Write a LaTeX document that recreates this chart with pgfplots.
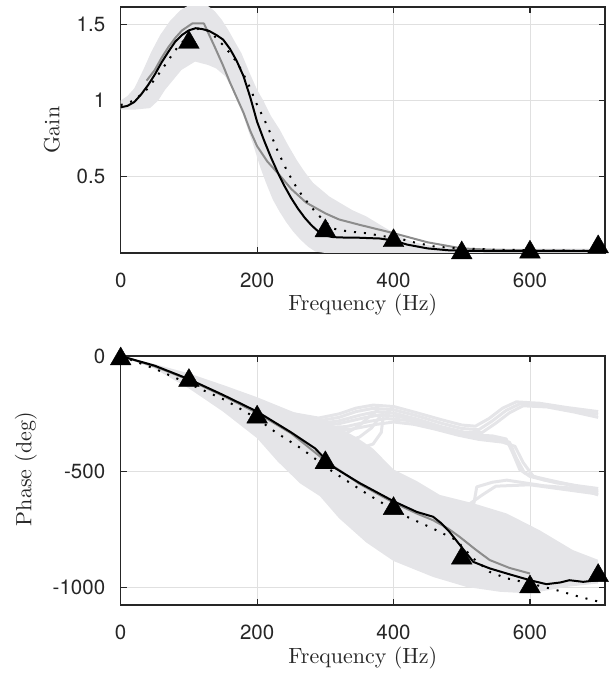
\documentclass[border=0pt]{standalone}
\usepackage{fontspec}
\newfontfamily\tickfont{TeX Gyre Heros}
\newfontfamily\labfont{lmroman10-regular.otf}
\usepackage{pgfplots}
\pgfplotsset{compat=1.18}
\definecolor{axcol}{rgb}{0.15,0.15,0.15}
\definecolor{band}{rgb}{0.9,0.9,0.91}
\definecolor{midgray}{rgb}{0.55,0.55,0.55}
\definecolor{gridc}{rgb}{0.88,0.88,0.88}
\newcommand\labsize{\labfont\fontsize{22}{26}\selectfont}
\pgfplotsset{
  myax/.style={
    scale only axis, width=484.3pt,
    xmin=0, xmax=710,
    xtick={0,200,400,600}, xticklabels={0,200,400,600},
    axis line style={axcol, line width=1.2pt},
    tick style={axcol, line width=1.2pt},
    tick align=inside, major tick length=6pt,
    grid=major, grid style={gridc, line width=0.8pt},
    /pgf/number format/assume math mode=true,
    ticklabel style={font=\tickfont\fontsize{20.5}{24}\selectfont, text=axcol},
    xticklabel style={yshift=-16pt},
    yticklabel style={xshift=-12pt},
    xlabel={\labsize Frequency (Hz)},
    every axis x label/.style={at={(axis description cs:0.5,-0.211)}, anchor=center, text=axcol},
    anchor=south west,
    every axis plot/.append style={line join=round},
    lg/.style={band, line width=3pt},
    blk/.style={black, line width=2pt},
    gry/.style={midgray, line width=2pt},
    dtt/.style={black, line width=2pt, dash pattern=on 2pt off 8pt},
    tri/.style={only marks, mark=triangle*, mark size=12pt, mark options={fill=black, draw=black, line width=0.4pt, yshift=-3pt}},
  },
}
\begin{document}
\begin{tikzpicture}
\useasboundingbox (0,0) rectangle (613pt,673pt);
% ---------------- Gain ----------------
\begin{axis}[myax, at={(120.7pt,420pt)}, height=246pt,
  ymin=0, ymax=1.613, ytick={0.5,1,1.5}, yticklabels={0.5,1,1.5},
  ylabel={\labsize Gain},
  every axis y label/.style={at={(axis description cs:-0.142,0.5)}, rotate=90, anchor=center, text=axcol}]
\addplot[fill=band, draw=none] coordinates {
(0,1.0) (10,1.03) (20,1.08) (33,1.2) (45,1.32) (58,1.43) (72,1.52) (87,1.59) (100,1.625) (115,1.635) (125,1.63)
(138,1.585) (148,1.53) (158,1.46) (168,1.38) (177,1.31) (190,1.17) (200,1.07) (209,1.0) (220,0.9) (233,0.81)
(245,0.71) (258,0.61) (270,0.53) (282,0.46) (306,0.37) (321,0.33) (340,0.28) (360,0.24) (384,0.175) (409,0.11)
(430,0.07) (458,0.045) (497,0.03) (550,0.028) (700,0.028)
(700,0) (300,0) (285,0.01) (275,0.04) (263,0.09) (253,0.14) (243,0.2) (233,0.27) (223,0.35) (213,0.46) (204,0.57)
(195,0.70) (185,0.83) (175,0.97) (165,1.07) (153,1.16) (140,1.21) (128,1.233) (109,1.255) (89,1.2) (65,1.07)
(55,1.0) (43,0.95) (20,0.94) (0,0.94)} -- cycle;
\addplot[gry] coordinates {
(38,1.13) (50,1.2) (60,1.28) (70,1.35) (80,1.41) (90,1.46) (105,1.505) (122,1.505) (138,1.35) (150,1.23) (160,1.12)
(170,1.02) (180,0.92) (190,0.80) (200,0.70) (215,0.60) (233,0.51) (250,0.42) (272,0.33) (300,0.26) (320,0.22)
(350,0.185) (400,0.13) (450,0.07) (500,0.03) (550,0.02) (700,0.015)};
\addplot[blk] coordinates {
(0,0.955) (10,0.965) (20,0.99) (30,1.04) (40,1.1) (50,1.17) (60,1.25) (70,1.32) (80,1.386) (90,1.43) (100,1.46)
(110,1.474) (120,1.468) (130,1.455) (140,1.43) (150,1.40) (160,1.34) (170,1.26) (180,1.16) (190,1.02) (200,0.86)
(210,0.74) (220,0.63) (230,0.53) (240,0.44) (250,0.36) (260,0.29) (270,0.23) (280,0.18) (290,0.14) (300,0.115)
(310,0.105) (320,0.102) (350,0.10) (380,0.095) (400,0.082) (420,0.055) (450,0.03) (480,0.018) (500,0.015)
(550,0.012) (600,0.012) (650,0.012) (700,0.012)};
\addplot[dtt] coordinates {
(0,0.97) (20,1.0) (40,1.08) (60,1.2) (80,1.33) (100,1.43) (115,1.475) (130,1.455) (140,1.41) (153,1.35) (167,1.27)
(177,1.2) (190,1.08) (199,0.98) (210,0.88) (219,0.79) (230,0.67) (243,0.546) (255,0.45) (267,0.37) (287,0.26)
(311,0.16) (335,0.14) (360,0.13) (385,0.11) (409,0.094) (430,0.07) (458,0.044) (480,0.035) (507,0.029)
(550,0.022) (604,0.018) (702,0.015)};
\addplot[tri] coordinates {(100,1.40) (300,0.165) (400,0.10) (500,0.02) (600,0.025) (700,0.06)};
\end{axis}
% ---------------- Phase ----------------
\begin{axis}[myax, at={(120.7pt,68pt)}, height=249pt,
  ymin=-1075, ymax=0, ytick={-1000,-500,0}, yticklabels={-1000,-500,0},
  ylabel={\labsize Phase (deg)},
  every axis y label/.style={at={(axis description cs:-0.196,0.546)}, rotate=90, anchor=center, text=axcol}]
\addplot[fill=band, draw=none] coordinates {
(0,0) (50,-35) (100,-75) (150,-125) (200,-178) (250,-238) (263,-252) (292,-272) (320,-310) (345,-350)
(370,-400) (400,-490) (434,-540) (468,-600) (517,-636) (566,-680) (614,-752) (663,-838) (700,-880)
(700,-982) (653,-997) (600,-1025) (556,-1018) (507,-997) (458,-954) (400,-885) (360,-805) (320,-700)
(292,-605) (263,-550) (230,-455) (200,-355) (150,-240) (100,-140) (50,-55) (0,0)} -- cycle;
% upper group -> top branch
\addplot[lg] coordinates {(255,-250) (290,-268) (320,-250) (345,-225) (370,-212) (400,-218) (434,-245) (470,-275) (500,-298) (520,-303) (540,-270) (560,-225) (580,-198) (614,-204) (653,-222) (700,-240)};
\addplot[lg] coordinates {(255,-258) (290,-280) (320,-265) (345,-240) (370,-226) (400,-232) (434,-258) (470,-290) (500,-313) (525,-318) (545,-280) (565,-235) (585,-207) (620,-212) (660,-232) (700,-252)};
\addplot[lg] coordinates {(255,-265) (290,-292) (320,-280) (350,-256) (375,-240) (400,-246) (434,-272) (470,-305) (505,-330) (530,-330) (550,-290) (570,-245) (590,-215) (625,-220) (665,-242) (700,-265)};
% upper group -> middle branch
\addplot[lg] coordinates {(255,-270) (290,-300) (320,-292) (355,-268) (380,-254) (410,-262) (440,-285) (475,-318) (510,-340) (545,-345) (565,-358) (575,-420) (585,-490) (600,-520) (639,-548) (700,-572)};
\addplot[lg] coordinates {(255,-275) (290,-310) (330,-305) (365,-282) (390,-270) (420,-278) (450,-300) (485,-330) (515,-350) (550,-358) (570,-372) (580,-440) (592,-505) (620,-535) (660,-555) (700,-588)};
\addplot[lg] coordinates {(255,-280) (300,-322) (340,-315) (375,-295) (400,-285) (430,-295) (460,-315) (495,-342) (525,-360) (560,-372) (578,-390) (590,-460) (605,-520) (650,-550) (700,-600)};
% hooks
\addplot[lg] coordinates {(300,-345) (330,-335) (350,-300) (365,-260) (378,-232)};
\addplot[lg] coordinates {(320,-380) (350,-350) (368,-310) (380,-262) (386,-240)};
\addplot[lg] coordinates {(340,-410) (370,-380) (382,-330) (385,-260)};
% branches from main band to the middle group
\addplot[lg] coordinates {(450,-600) (500,-640) (517,-650) (522,-565) (545,-545) (566,-536) (620,-560) (700,-580)};
\addplot[lg] coordinates {(450,-612) (505,-652) (530,-600) (550,-562) (600,-556) (700,-596)};
\addplot[gry] coordinates {
(0,0) (50,-45) (100,-103) (150,-172) (200,-246) (250,-334) (300,-452) (350,-552) (400,-633) (434,-680) (458,-709)
(480,-745) (497,-781) (520,-835) (541,-881) (570,-915) (600,-939)};
\addplot[blk] coordinates {
(0,0) (50,-42) (100,-100) (150,-168) (200,-240) (250,-330) (285,-399) (311,-478) (350,-548) (400,-627) (434,-673)
(458,-694) (470,-722) (482,-759) (497,-815) (517,-889) (541,-917) (566,-939) (600,-968) (624,-985) (644,-978)
(658,-968) (678,-975) (700,-968)};
\addplot[dtt] coordinates {
(0,0) (50,-55) (100,-120) (153,-190) (200,-270) (226,-327) (265,-400) (311,-500) (360,-593) (409,-680) (458,-745)
(492,-795) (517,-874) (541,-932) (566,-960) (600,-982) (639,-1011) (673,-1040) (703,-1062)};
\addplot[tri] coordinates {(0,0) (100,-93) (200,-251) (300,-448) (400,-646) (500,-860) (600,-984) (700,-935)};
\end{axis}
\end{tikzpicture}
\end{document}
